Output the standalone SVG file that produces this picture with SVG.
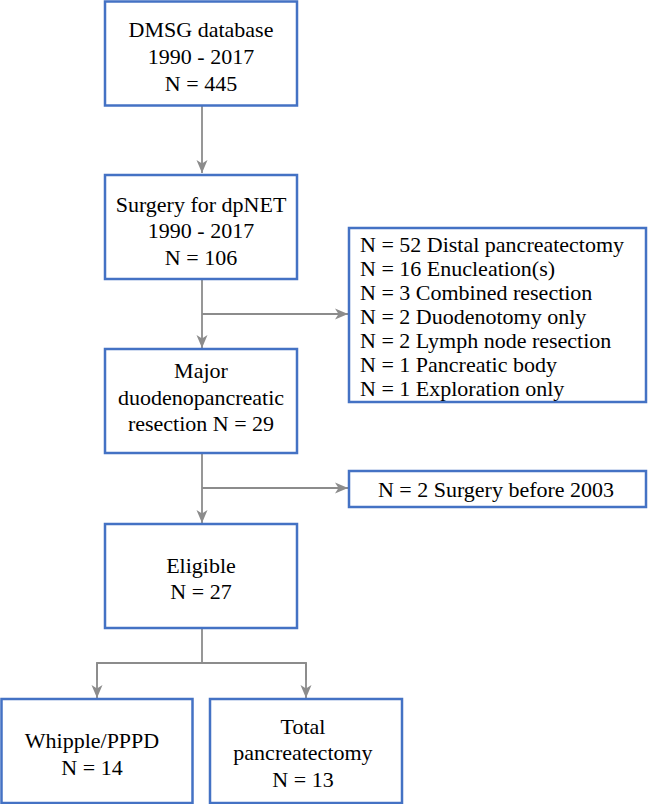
<svg xmlns="http://www.w3.org/2000/svg" width="648" height="804" viewBox="0 0 648 804">
<style>
.box{fill:#fff;stroke:#4472C4;stroke-width:2.5}
.t{font-size:22px;fill:#000}
.c{text-anchor:middle}
.ln{fill:none;stroke:#8c8c8c;stroke-width:1.8}
</style>
<defs>
<marker id="ah" markerUnits="userSpaceOnUse" markerWidth="14" markerHeight="12" viewBox="0 0 14 12" refX="13" refY="6" orient="auto">
<path d="M0,0.5 L13,6 L0,11.5 L3.5,6 z" fill="#8c8c8c"/>
</marker>
</defs>
<rect width="648" height="804" fill="#fff"/>
<g id="connectors">
<line class="ln" x1="202" y1="106" x2="202" y2="173" marker-end="url(#ah)"/>
<line class="ln" x1="202" y1="279" x2="202" y2="348" marker-end="url(#ah)"/>
<line class="ln" x1="202" y1="314" x2="348" y2="314" marker-end="url(#ah)"/>
<line class="ln" x1="202" y1="453" x2="202" y2="523" marker-end="url(#ah)"/>
<line class="ln" x1="202" y1="488" x2="348" y2="488" marker-end="url(#ah)"/>
<polyline class="ln" points="202,628 202,663"/>
<polyline class="ln" points="97,680 97,663 306,663 306,680"/>
<line class="ln" x1="97" y1="663" x2="97" y2="698" marker-end="url(#ah)"/>
<line class="ln" x1="306" y1="663" x2="306" y2="698" marker-end="url(#ah)"/>
</g>
<g font-family="Liberation Serif, Times New Roman, serif">
<g id="n1">
<rect class="box" x="105" y="1.5" width="192" height="104"/>
<text class="t c" x="201" y="37">DMSG database</text>
<text class="t c" x="201" y="64">1990 - 2017</text>
<text class="t c" x="201" y="91">N = 445</text>
</g>
<g id="n2">
<rect class="box" x="105" y="175" width="192" height="104"/>
<text class="t c" x="201" y="212">Surgery for dpNET</text>
<text class="t c" x="201" y="238">1990 - 2017</text>
<text class="t c" x="201" y="265">N = 106</text>
</g>
<g id="n3">
<rect class="box" x="349" y="228" width="297" height="174"/>
<text class="t" x="360" y="252">N = 52 Distal pancreatectomy</text>
<text class="t" x="360" y="276">N = 16 Enucleation(s)</text>
<text class="t" x="360" y="300">N = 3 Combined resection</text>
<text class="t" x="360" y="324">N = 2 Duodenotomy only</text>
<text class="t" x="360" y="348">N = 2 Lymph node resection</text>
<text class="t" x="360" y="372">N = 1 Pancreatic body</text>
<text class="t" x="360" y="396">N = 1 Exploration only</text>
</g>
<g id="n4">
<rect class="box" x="105" y="349" width="192" height="104"/>
<text class="t c" x="201" y="378">Major</text>
<text class="t c" x="201" y="405">duodenopancreatic</text>
<text class="t c" x="201" y="431">resection N = 29</text>
</g>
<g id="n5">
<rect class="box" x="349" y="471" width="297" height="36"/>
<text class="t c" x="496" y="497">N = 2 Surgery before 2003</text>
</g>
<g id="n6">
<rect class="box" x="105" y="524" width="192" height="104"/>
<text class="t c" x="201" y="573">Eligible</text>
<text class="t c" x="201" y="599">N = 27</text>
</g>
<g id="n7">
<rect class="box" x="1.5" y="699" width="191" height="104"/>
<text class="t c" x="92" y="748">Whipple/PPPD</text>
<text class="t c" x="92" y="775">N = 14</text>
</g>
<g id="n8">
<rect class="box" x="210" y="699" width="192" height="104"/>
<text class="t c" x="303" y="734">Total</text>
<text class="t c" x="303" y="760">pancreatectomy</text>
<text class="t c" x="303" y="787">N = 13</text>
</g>
</g>
</svg>
